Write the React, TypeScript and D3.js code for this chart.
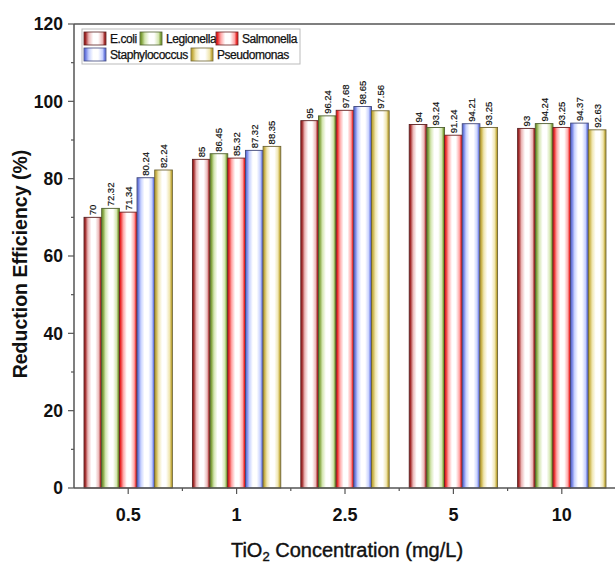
import { useEffect, useRef } from "react";
import * as d3 from "d3";

const concentrations = ["0.5", "1", "2.5", "5", "10"];
const bacteria = ["E.coli", "Legionella", "Salmonella", "Staphylococcus", "Pseudomonas"];

const ecoli = [70, 85, 95, 94, 93];
const legionella = [72.32, 86.45, 96.24, 93.24, 94.24];
const salmonella = [71.34, 85.32, 97.68, 91.24, 93.25];
const staphylococcus = [80.24, 87.32, 98.65, 94.21, 94.37];
const pseudomonas = [82.24, 88.35, 97.56, 93.25, 92.63];

const seriesValues = [ecoli, legionella, salmonella, staphylococcus, pseudomonas];

const yTicks = [0, 20, 40, 60, 80, 100, 120];

// edge colour and mid colour of each bar's tube gradient
const edgeColors = ["#a02828", "#7ea03a", "#e82828", "#6a7ae0", "#c4ac40"];
const midColors = ["#ecb8b8", "#d4e6b0", "#ffa8a8", "#c8d2ff", "#f0e6b0"];
const strokeColors = ["#5a2020", "#4f5f30", "#6a2020", "#40487a", "#6e6434"];

const W = 615;
const H = 563;
const left = 74;
const right = 616;
const top = 24;
const bottom = 488;
const font = "Liberation Sans, Arial, sans-serif";

const App = () => {
    const svgRef = useRef<SVGSVGElement>(null);

    useEffect(() => {
        const svg = d3.select(svgRef.current);
        svg.selectAll("*").remove();

        const defs = svg.append("defs");
        bacteria.forEach((b, i) => {
            const g = defs.append("linearGradient")
                .attr("id", "grad" + i)
                .attr("x1", "0").attr("x2", "1").attr("y1", "0").attr("y2", "0");
            const stops: [number, string][] = [
                [0, edgeColors[i]], [0.07, edgeColors[i]], [0.22, midColors[i]],
                [0.42, "#ffffff"], [0.64, "#ffffff"], [0.84, midColors[i]],
                [0.94, edgeColors[i]], [1, edgeColors[i]],
            ];
            stops.forEach(([o, c]) => g.append("stop").attr("offset", o).attr("stop-color", c));
        });

        const x0 = d3.scaleBand()
            .domain(concentrations)
            .range([left, right])
            .paddingInner(0.185)
            .paddingOuter(0.0925);

        const x1 = d3.scaleBand()
            .domain(bacteria)
            .range([0, x0.bandwidth()]);

        const y = d3.scaleLinear().domain([0, 120]).range([bottom, top]);

        // bars
        concentrations.forEach((c, ci) => {
            const g = svg.append("g").attr("transform", `translate(${x0(c)},0)`);
            bacteria.forEach((b, bi) => {
                const v = seriesValues[bi][ci];
                g.append("rect")
                    .attr("x", x1(b))
                    .attr("y", y(v))
                    .attr("width", x1.bandwidth())
                    .attr("height", y(0) - y(v))
                    .attr("fill", `url(#grad${bi})`)
                    .attr("stroke", strokeColors[bi])
                    .attr("stroke-width", 0.9);
                const cx = x1(b) + x1.bandwidth() / 2;
                g.append("text")
                    .attr("transform", `translate(${cx + 3.5},${y(v) - 2}) rotate(-90)`)
                    .attr("font-family", font)
                    .attr("font-size", 9.5)
                    .attr("fill", "#111")
                    .attr("stroke", "#111")
                    .attr("stroke-width", 0.2)
                    .text(String(v));
            });
        });

        const axisColor = "#555";

        // frame top
        svg.append("line")
            .attr("x1", left).attr("x2", right).attr("y1", top).attr("y2", top)
            .attr("stroke", axisColor).attr("stroke-width", 1.5);

        // y axis
        const yAxis = svg.append("g");
        yAxis.append("line")
            .attr("x1", left).attr("x2", left).attr("y1", top).attr("y2", bottom)
            .attr("stroke", axisColor).attr("stroke-width", 1.5);
        d3.range(10, 120, 20).forEach(t => {
            yAxis.append("line")
                .attr("x1", left - 3).attr("x2", left).attr("y1", y(t)).attr("y2", y(t))
                .attr("stroke", axisColor).attr("stroke-width", 1.2);
        });
        yTicks.forEach(t => {
            yAxis.append("line")
                .attr("x1", left - 6).attr("x2", left).attr("y1", y(t)).attr("y2", y(t))
                .attr("stroke", axisColor).attr("stroke-width", 1.2);
            yAxis.append("text")
                .attr("x", left - 11)
                .attr("y", y(t))
                .attr("dy", "0.36em")
                .attr("text-anchor", "end")
                .attr("font-family", font)
                .attr("font-weight", "bold")
                .attr("font-size", 17.5)
                .attr("fill", "#111")
                .text(t);
        });

        // x axis
        const xAxis = svg.append("g");
        xAxis.append("line")
            .attr("x1", left).attr("x2", right).attr("y1", bottom).attr("y2", bottom)
            .attr("stroke", axisColor).attr("stroke-width", 1.5);
        const step = x0.step();
        concentrations.forEach((c, ci) => {
            const cx = x0(c) + x0.bandwidth() / 2;
            xAxis.append("line")
                .attr("x1", cx).attr("x2", cx).attr("y1", bottom).attr("y2", bottom + 6)
                .attr("stroke", axisColor).attr("stroke-width", 1.2);
            if (ci > 0) {
                const bx = cx - step / 2;
                xAxis.append("line")
                    .attr("x1", bx).attr("x2", bx).attr("y1", bottom).attr("y2", bottom + 3)
                    .attr("stroke", axisColor).attr("stroke-width", 1.2);
            }
            xAxis.append("text")
                .attr("x", cx)
                .attr("y", bottom + 33)
                .attr("text-anchor", "middle")
                .attr("font-family", font)
                .attr("font-weight", "bold")
                .attr("font-size", 18)
                .attr("fill", "#111")
                .text(c);
        });

        // axis titles
        svg.append("text")
            .attr("transform", `translate(27,264) rotate(-90)`)
            .attr("text-anchor", "middle")
            .attr("font-family", font)
            .attr("font-weight", "bold")
            .attr("font-size", 19.5)
            .attr("fill", "#111")
            .text("Reduction Efficiency (%)");

        const xt = svg.append("text")
            .attr("x", 347)
            .attr("y", 557)
            .attr("text-anchor", "middle")
            .attr("font-family", font)
            .attr("font-size", 20)
            .attr("fill", "#111")
            .attr("stroke", "#111")
            .attr("stroke-width", 0.4);
        xt.append("tspan").text("TiO");
        xt.append("tspan").attr("font-size", 13).attr("dy", 4).text("2");
        xt.append("tspan").attr("dy", -4).text(" Concentration (mg/L)");

        // legend
        const lg = svg.append("g");
        lg.append("rect")
            .attr("x", 82).attr("y", 29).attr("width", 218).attr("height", 35)
            .attr("fill", "#fff").attr("stroke", "#bbb").attr("stroke-width", 1);
        const legendPos = [
            [84, 32], [140, 32], [216, 32],
            [84, 48], [191, 48],
        ];
        bacteria.forEach((b, i) => {
            const [lx, ly] = legendPos[i];
            lg.append("rect")
                .attr("x", lx).attr("y", ly).attr("width", 22).attr("height", 13)
                .attr("fill", `url(#grad${i})`)
                .attr("stroke", strokeColors[i]).attr("stroke-width", 0.8);
            lg.append("text")
                .attr("x", lx + 26).attr("y", ly + 10.5)
                .attr("font-family", font)
                .attr("font-size", 12)
                .attr("letter-spacing", -0.45)
                .attr("fill", "#111")
                .attr("stroke", "#111")
                .attr("stroke-width", 0.25)
                .text(b);
        });
    }, []);

    return (
        <svg ref={svgRef} width={W} height={H}
             style={{ position: "absolute", left: 0, top: 0, background: "#fff" }} />
    );
};

export default App;
